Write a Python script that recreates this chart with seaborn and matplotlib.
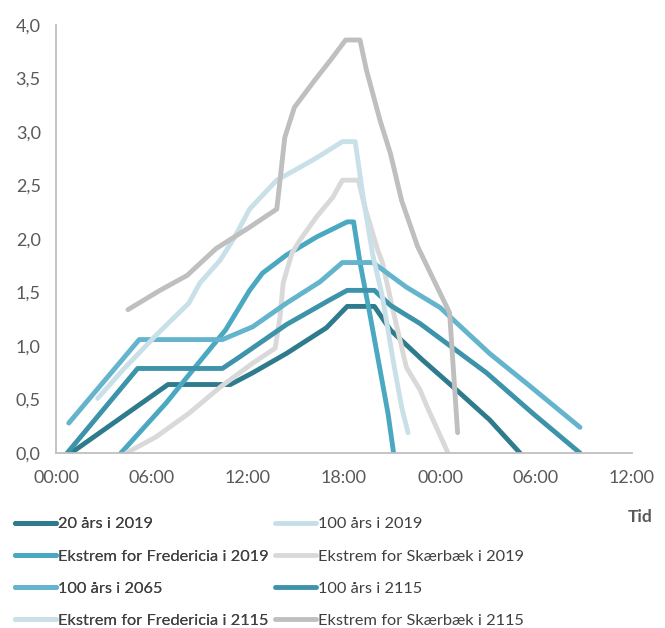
import pandas as pd
import matplotlib
matplotlib.use("Agg")
import matplotlib.pyplot as plt
from matplotlib.lines import Line2D
import seaborn as sns

# DATI (ore dalle 00:00, livello in m)
############################################################################################
t_20_2019 = [0.94, 7.0, 10.9, 12.3, 14.4, 16.9, 18.2, 19.9, 20.9, 22.9, 24.8, 27.1, 29.0]
y_20_2019 = [0.0, 0.64, 0.64, 0.75, 0.93, 1.17, 1.37, 1.37, 1.15, 0.87, 0.62, 0.31, 0.0]

t_100_2019 = []
y_100_2019 = []

t_fred_2019 = [4.06, 6.9, 8.9, 10.6, 12.1, 12.9, 14.4, 16.3, 18.2, 18.6, 19.0, 19.6, 20.25, 20.75, 21.1]
y_fred_2019 = [0.0, 0.47, 0.84, 1.15, 1.52, 1.68, 1.85, 2.02, 2.16, 2.16, 1.78, 1.31, 0.78, 0.37, 0.0]

t_skaer_2019 = [4.4, 6.25, 8.3, 10.3, 12.3, 13.7, 14.0, 14.2, 14.75, 15.25, 16.3, 17.3, 17.9, 18.9,
                19.3, 20.1, 20.4, 21.1, 21.9, 22.75, 23.2, 24.5]
y_skaer_2019 = [0.0, 0.15, 0.37, 0.62, 0.84, 0.98, 1.27, 1.59, 1.87, 1.99, 2.21, 2.39, 2.55, 2.55,
                2.3, 1.9, 1.78, 1.31, 0.8, 0.59, 0.43, 0.0]

t_100_2065 = [0.8, 5.2, 10.4, 12.3, 14.4, 16.5, 17.9, 19.8, 21.9, 24.0, 27.1, 29.5, 32.75]
y_100_2065 = [0.28, 1.06, 1.06, 1.18, 1.4, 1.6, 1.78, 1.78, 1.55, 1.36, 0.93, 0.64, 0.24]

t_100_2115 = [0.7, 5.1, 10.4, 11.5, 14.4, 17.1, 18.2, 19.9, 20.9, 22.75, 26.9, 29.8, 32.75]
y_100_2115 = [0.0, 0.79, 0.79, 0.9, 1.2, 1.43, 1.52, 1.52, 1.38, 1.21, 0.75, 0.37, 0.0]

t_fred_2115 = [2.6, 4.2, 6.25, 8.3, 9.0, 10.25, 11.1, 12.1, 13.8, 15.25, 16.3, 17.9, 18.7,
               19.2, 19.8, 20.4, 21.1, 21.6, 22.0]
y_fred_2115 = [0.51, 0.78, 1.1, 1.4, 1.59, 1.8, 2.0, 2.28, 2.55, 2.67, 2.76, 2.91, 2.91,
               2.39, 1.85, 1.46, 0.84, 0.43, 0.19]

t_skaer_2115 = [4.5, 6.5, 8.2, 10.0, 12.0, 13.8, 14.3, 14.9, 16.1, 17.2, 18.1, 19.0, 19.4,
                20.25, 20.9, 21.6, 22.6, 23.6, 24.6, 25.1]
y_skaer_2115 = [1.34, 1.52, 1.66, 1.91, 2.1, 2.28, 2.95, 3.23, 3.47, 3.68, 3.86, 3.86, 3.58,
                3.11, 2.8, 2.36, 1.93, 1.62, 1.31, 0.19]

x_ticks = [0, 6, 12, 18, 24, 30, 36]
x_labels = ["00:00", "06:00", "12:00", "18:00", "00:00", "06:00", "12:00"]
y_ticks = [0.0, 0.5, 1.0, 1.5, 2.0, 2.5, 3.0, 3.5, 4.0]
y_labels = ["0,0", "0,5", "1,0", "1,5", "2,0", "2,5", "3,0", "3,5", "4,0"]
############################################################################################

series = [
    ("20 års i 2019", t_20_2019, y_20_2019, "#2E7B8D"),
    ("100 års i 2019", t_100_2019, y_100_2019, "#C5DFE8"),
    ("Ekstrem for Fredericia i 2019", t_fred_2019, y_fred_2019, "#4BA8C1"),
    ("Ekstrem for Skærbæk i 2019", t_skaer_2019, y_skaer_2019, "#D9D9D9"),
    ("100 års i 2065", t_100_2065, y_100_2065, "#63B4CC"),
    ("100 års i 2115", t_100_2115, y_100_2115, "#3D93A9"),
    ("Ekstrem for Fredericia i 2115", t_fred_2115, y_fred_2115, "#C9E0E8"),
    ("Ekstrem for Skærbæk i 2115", t_skaer_2115, y_skaer_2115, "#BFBFBF"),
]

sns.set_style("white")
plt.rcParams['font.family'] = ['Lato', 'DejaVu Sans']

fig = plt.figure(figsize=(6.65, 6.28), dpi=100)
ax = fig.add_axes([56/665, 1-453/628, 576/665, 428/628])

for name, t, y, col in series:
    if len(t) == 0:
        continue
    df = pd.DataFrame({"t": t, "y": y})
    sns.lineplot(data=df, x="t", y="y", color=col, linewidth=3.5,
                 sort=False, estimator=None, ax=ax, solid_capstyle="round")

ax.set_xlim(0, 36)
ax.set_ylim(0, 4.0)
ax.set_xticks(x_ticks)
ax.set_xticklabels(x_labels)
ax.set_yticks(y_ticks)
ax.set_yticklabels(y_labels)
ax.set_xlabel("")
ax.set_ylabel("")
ax.tick_params(axis="both", length=0, labelsize=13, labelcolor="#595959")
ax.tick_params(axis="y", pad=11)
ax.tick_params(axis="x", pad=12)
for s in ["top", "right"]:
    ax.spines[s].set_visible(False)
for s in ["left", "bottom"]:
    ax.spines[s].set_color("#BFBFBF")
    ax.spines[s].set_linewidth(1.3)

fig.text(640/665, 1-517/628, "Tid", fontsize=12.5, fontweight="bold",
         color="#595959", ha="center", va="center")

# legenda su due colonne
handles = [Line2D([], [], color=c, linewidth=3.5, solid_capstyle="round") for _, _, _, c in series]
labels = [n for n, _, _, _ in series]
col1 = [0, 2, 4, 6]
col2 = [1, 3, 5, 7]
leg_kw = dict(loc="upper left", frameon=False, fontsize=11.8, handlelength=2.5,
              handletextpad=0.1, labelspacing=1.08, borderpad=0, borderaxespad=0,
              labelcolor="#404040")
leg1 = fig.legend([handles[i] for i in col1], [labels[i] for i in col1],
                  bbox_to_anchor=(15/665, 1-517/628), **leg_kw)
fig.add_artist(leg1)
fig.legend([handles[i] for i in col2], [labels[i] for i in col2],
           bbox_to_anchor=(275/665, 1-517/628), **leg_kw)

fig.savefig("out.png", dpi=100)
